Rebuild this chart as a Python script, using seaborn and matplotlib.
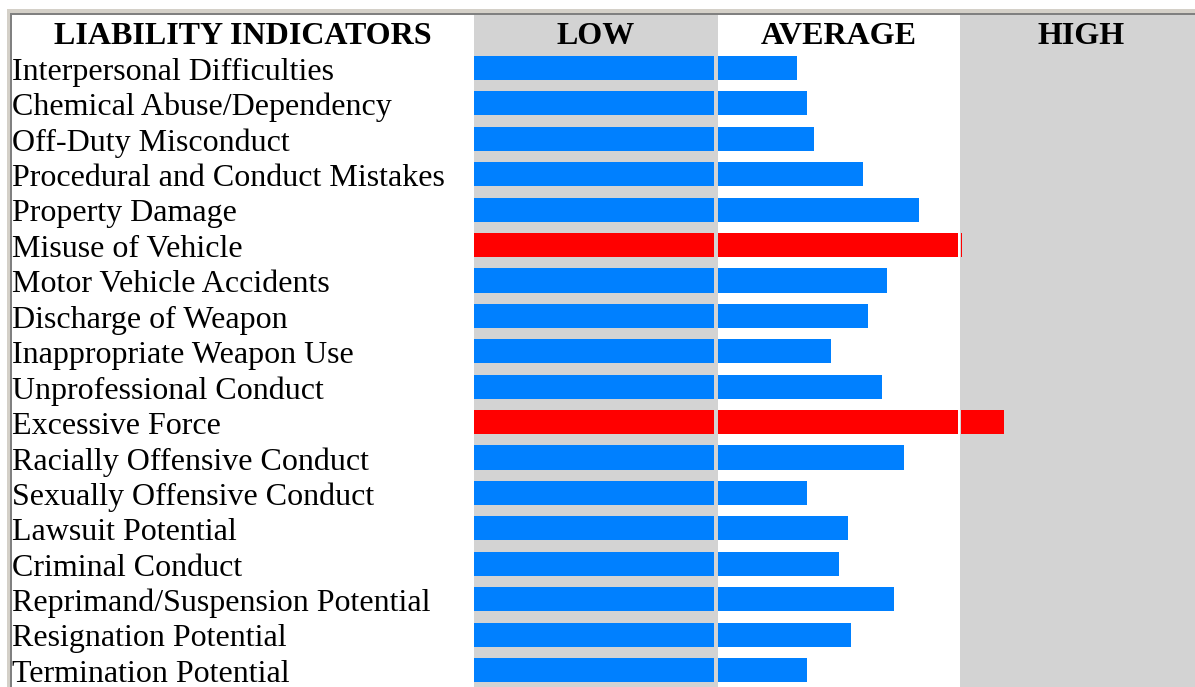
import matplotlib
matplotlib.use("Agg")
import matplotlib.pyplot as plt
import matplotlib.transforms as mtransforms
from matplotlib.patches import Rectangle
import seaborn as sns
import pandas as pd

# indicators and scores (0-100 low, 100-200 average, 200-300 high)
indicators = [
    "Interpersonal Difficulties", "Chemical Abuse/Dependency", "Off-Duty Misconduct",
    "Procedural and Conduct Mistakes", "Property Damage", "Misuse of Vehicle",
    "Motor Vehicle Accidents", "Discharge of Weapon", "Inappropriate Weapon Use",
    "Unprofessional Conduct", "Excessive Force", "Racially Offensive Conduct",
    "Sexually Offensive Conduct", "Lawsuit Potential", "Criminal Conduct",
    "Reprimand/Suspension Potential", "Resignation Potential", "Termination Potential",
]
scores = [133, 137, 140, 160, 183, 201, 170, 162, 147, 168, 218, 177, 137, 154, 150, 173, 155, 137]
bands = ["LOW", "AVERAGE", "HIGH"]
band_edges = [0, 100, 200, 300]

W, H = 1195, 687
BLUE = "#0080ff"
RED = "#ff0000"
GRAY = "#d3d3d3"

sns.set_theme(style="white")
plt.rcParams['font.family'] = ['Liberation Serif', 'DejaVu Serif']

df = pd.DataFrame({"indicator": indicators, "score": scores})
df["level"] = ["high" if s > 200 else "normal" for s in df["score"]]

fig = plt.figure(figsize=(W / 100, H / 100), dpi=100)
px = 2.43  # pixels per score unit
ax = fig.add_axes([474 / W, 0, (W - 474) / W, (H - 14) / H])

# column bands
ax.axvspan(band_edges[0], band_edges[1], color=GRAY, zorder=0, lw=0)
ax.axvspan(band_edges[2], band_edges[3] + 20, color=GRAY, zorder=0, lw=0)

sns.barplot(data=df, y="indicator", x="score", hue="level", orient="h",
            palette={"normal": BLUE, "high": RED}, dodge=False, width=0.68,
            saturation=1, legend=False, ax=ax, zorder=2, linewidth=0, edgecolor="none")

# cell gaps cutting through the bars
ax.axvspan(240 / px, 243.5 / px, color=GRAY, zorder=3, lw=0)
ax.axvspan(484 / px, 486 / px, color="white", zorder=3, lw=0)
ax.axvspan(486 / px, 487 / px, color=GRAY, zorder=3, lw=0)

ax.set_xlim(0, (W - 474) / px)
ax.set_ylim(len(indicators) - 1 + (H - 670) / 35.41, -1 - (68 - 14 - 35.41) / 35.41)
ax.set_xlabel("")
ax.set_ylabel("")
ax.set_xticks([])
ax.set_yticks([])
for s in ax.spines.values():
    s.set_visible(False)

FS = 23
# header row
for i, b in enumerate(bands):
    ax.text((band_edges[i] + band_edges[i + 1]) / 2, -0.9, b, ha="center", va="center",
            fontsize=FS, fontweight="bold", color="black")

trans = mtransforms.blended_transform_factory(fig.transFigure, ax.transData)
ax.text(242.5 / W, -0.9, "LIABILITY INDICATORS", transform=trans, ha="center", va="center",
        fontsize=FS, fontweight="bold", color="black", clip_on=False)
for i, name in enumerate(indicators):
    ax.text(12 / W, i + 0.12, name, transform=trans, ha="left", va="center",
            fontsize=FS, color="black", clip_on=False)

# table frame
def frame(x0, y0, w, h, c):
    fig.add_artist(Rectangle((x0 / W, 1 - (y0 + h) / H), w / W, h / H,
                             transform=fig.transFigure, color=c, lw=0))

frame(7, 9, W - 7, 4, "#d4d0c8")
frame(7, 9, 3, H - 9, "#d4d0c8")
frame(10, 13, W - 10, 1.5, "#808080")
frame(10, 13, 1.5, H - 13, "#808080")

fig.savefig("out.png", dpi=100)
